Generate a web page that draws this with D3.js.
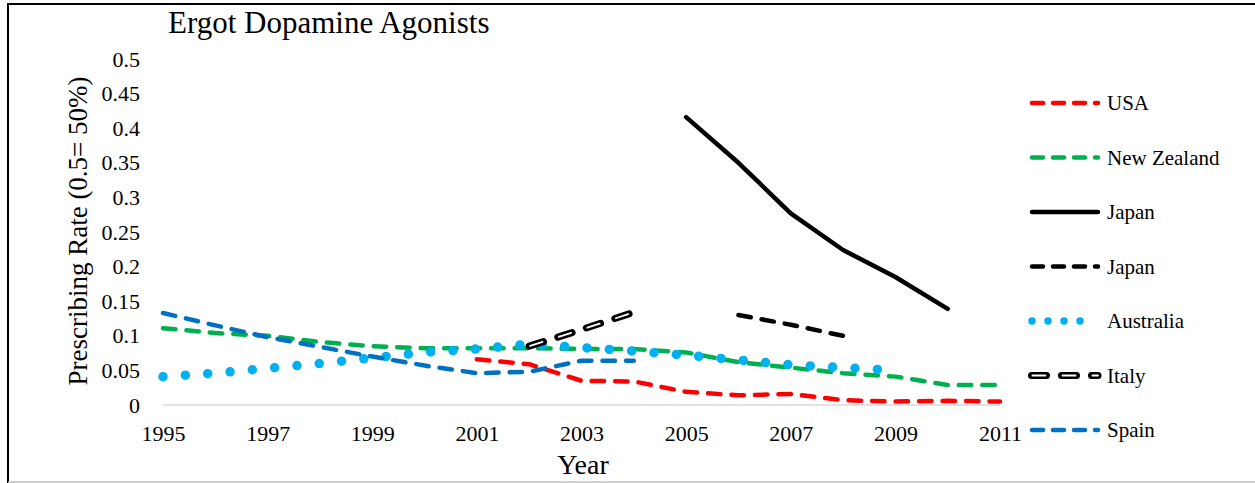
<!DOCTYPE html>
<html>
<head>
<meta charset="utf-8">
<script src="https://cdn.jsdelivr.net/npm/d3@7"></script>
<style>
  html, body { margin: 0; padding: 0; background: #fff; }
  svg { display: block; }
  text { font-family: "Liberation Serif", "Times New Roman", serif; fill: #000; }
</style>
</head>
<body>
<svg id="chart" width="1255" height="483"></svg>
<script>
// Prescribing rates of ergot dopamine agonists by country
const years = d3.range(1995, 2012);
const xTickLabels = ["1995", "1997", "1999", "2001", "2003", "2005", "2007", "2009", "2011"];
const yTickLabels = ["0", "0.05", "0.1", "0.15", "0.2", "0.25", "0.3", "0.35", "0.4", "0.45", "0.5"];

// one value per year 1995..2011, null where no data
const usa        = [null, null, null, null, null, null, 0.066, 0.059, 0.035, 0.034, 0.019, 0.014, 0.016, 0.007, 0.005, 0.006, 0.005];
const newZealand = [0.111, 0.104, 0.100, 0.091, 0.085, 0.082, 0.082, 0.082, 0.081, 0.081, 0.076, 0.062, 0.054, 0.046, 0.041, 0.029, 0.029];
const japan      = [null, null, null, null, null, null, null, null, null, null, 0.416, 0.350, 0.277, 0.224, 0.185, 0.139, null];
const japan2     = [null, null, null, null, null, null, null, null, null, null, null, 0.130, 0.116, 0.100, null, null, null];
const australia  = [0.041, 0.046, 0.053, 0.060, 0.068, 0.076, 0.081, 0.088, 0.083, 0.078, 0.072, 0.065, 0.058, 0.054, 0.050, null, null];
const italy      = [null, null, null, null, null, null, null, 0.085, 0.109, 0.134, null, null, null, null, null, null, null];
const spain      = [0.133, 0.115, 0.098, 0.084, 0.070, 0.057, 0.046, 0.048, 0.064, 0.064, null, null, null, null, null, null, null];

const series = [
  { name: "USA",         values: usa,        kind: "dash",   color: "#FF0000" },
  { name: "New Zealand", values: newZealand, kind: "dash",   color: "#00B050" },
  { name: "Japan",       values: japan,      kind: "solid",  color: "#000000" },
  { name: "Japan",       values: japan2,     kind: "dash",   color: "#000000" },
  { name: "Australia",   values: australia,  kind: "dot",    color: "#00B0F0" },
  { name: "Italy",       values: italy,      kind: "double", color: "#000000" },
  { name: "Spain",       values: spain,      kind: "dash",   color: "#0070C0" }
];

const svg = d3.select("#chart");
const serif = "'Liberation Serif', 'Times New Roman', serif";

// outer frame
svg.append("line").attr("x1", 8).attr("x2", 1255).attr("y1", 4).attr("y2", 4)
  .attr("stroke", "#000").attr("stroke-width", 2);
svg.append("line").attr("x1", 8).attr("x2", 8).attr("y1", 3).attr("y2", 483)
  .attr("stroke", "#000").attr("stroke-width", 2);
svg.append("line").attr("x1", 8).attr("x2", 1255).attr("y1", 482).attr("y2", 482)
  .attr("stroke", "#bfbfbf").attr("stroke-width", 1.5);

const x = d3.scaleLinear().domain([1995, 2011]).range([163, 1000]);
const y = d3.scaleLinear().domain([0, 0.5]).range([405, 59]);

// title
svg.append("text").attr("x", 168).attr("y", 33)
  .style("font-size", "31px").text("Ergot Dopamine Agonists");

// y axis labels
const yAxis = d3.axisLeft(y)
  .tickValues(yTickLabels.map(Number))
  .tickFormat((d, i) => yTickLabels[i])
  .tickSize(0).tickPadding(0);
const gy = svg.append("g").attr("transform", "translate(140,0)").call(yAxis);
gy.attr("font-family", serif);
gy.select(".domain").remove();
gy.selectAll("text").style("font-size", "22px").style("font-family", serif);

// x axis labels
const xAxis = d3.axisBottom(x)
  .tickValues(xTickLabels.map(Number))
  .tickFormat((d, i) => xTickLabels[i])
  .tickSize(0).tickPadding(0);
const gx = svg.append("g").attr("transform", "translate(0,405)").call(xAxis);
gx.attr("font-family", serif);
gx.select(".domain").remove();
gx.selectAll("text").attr("y", 0).attr("dy", "36px")
  .style("font-size", "22px").style("font-family", serif);

// baseline at zero
svg.append("line").attr("x1", x(1995)).attr("x2", x(2011))
  .attr("y1", y(0)).attr("y2", y(0))
  .attr("stroke", "#d9d9d9").attr("stroke-width", 1.5);

// axis titles
svg.append("text").attr("transform", "translate(87,231) rotate(-90)")
  .attr("text-anchor", "middle").style("font-size", "27px")
  .text("Prescribing Rate (0.5= 50%)");
svg.append("text").attr("x", 583).attr("y", 474).attr("text-anchor", "middle")
  .style("font-size", "28px").text("Year");

const line = d3.line()
  .defined(d => d.v !== null)
  .x(d => x(d.year))
  .y(d => y(d.v));

function drawStyled(g, d, s, legend) {
  if (s.kind === "solid") {
    g.append("path").attr("d", d).attr("fill", "none").attr("stroke", s.color)
      .attr("stroke-width", 4.5).attr("stroke-linecap", "round").attr("stroke-linejoin", "round");
  } else if (s.kind === "dash") {
    g.append("path").attr("d", d).attr("fill", "none").attr("stroke", s.color)
      .attr("stroke-width", 4.5).attr("stroke-linecap", "round").attr("stroke-linejoin", "round")
      .attr("stroke-dasharray", legend ? "11,10" : "12.5,11");
  } else if (s.kind === "dot") {
    g.append("path").attr("d", d).attr("fill", "none").attr("stroke", s.color)
      .attr("stroke-width", legend ? 7.5 : 9.5).attr("stroke-linecap", "round")
      .attr("stroke-dasharray", legend ? "0,16" : "0,22.4");
  } else if (s.kind === "double") {
    g.append("path").attr("d", d).attr("fill", "none").attr("stroke", s.color)
      .attr("stroke-width", 7).attr("stroke-linecap", "round")
      .attr("stroke-dasharray", "15,15");
    g.append("path").attr("d", d).attr("fill", "none").attr("stroke", "#fff")
      .attr("stroke-width", 1.8).attr("stroke-linecap", "round")
      .attr("stroke-dasharray", "13,17").attr("stroke-dashoffset", -1);
  }
}

// series lines
const plot = svg.append("g");
series.forEach(s => {
  const pts = years.map((yr, i) => ({ year: yr, v: s.values[i] }));
  drawStyled(plot.append("g"), line(pts), s, false);
});

// legend
const legend = svg.append("g");
series.forEach((s, i) => {
  const cy = 103 + i * 54.5;
  const g = legend.append("g");
  const x0 = s.kind === "double" ? 1031.5 : 1032;
  const x1 = s.kind === "dot" ? 1096 : 1098;
  drawStyled(g, `M${x0},${cy}H${x1}`, s, true);
  g.append("text").attr("x", 1107).attr("y", cy + 7)
    .style("font-size", "21px").text(s.name);
});
</script>
</body>
</html>
